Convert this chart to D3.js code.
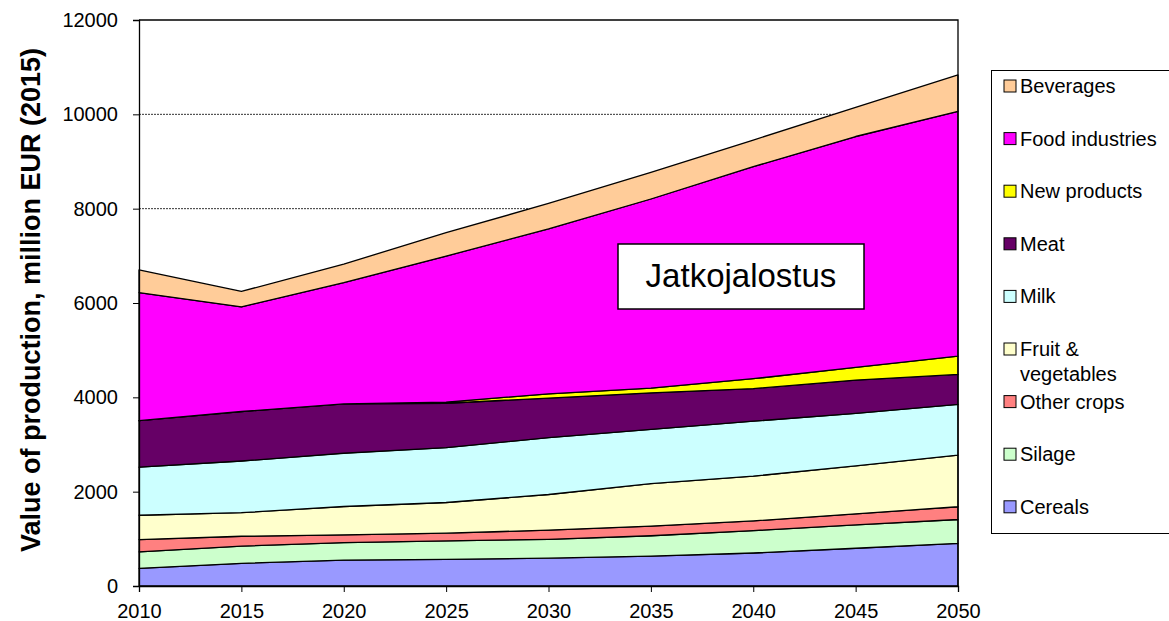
<!DOCTYPE html>
<html>
<head>
<meta charset="utf-8">
<script src="https://cdn.jsdelivr.net/npm/d3@7"></script>
<style>
  body { margin: 0; background: #fff; }
  text { font-family: "Liberation Sans", Arial, sans-serif; fill: #000; }
</style>
</head>
<body>
<div id="chart"></div>
<script>
// Values (million EUR, 2015 prices)
const years = [2010, 2015, 2020, 2025, 2030, 2035, 2040, 2045, 2050];
const cereals = [375, 480, 550, 565, 590, 635, 700, 800, 905];
const silage = [350, 365, 370, 390, 400, 430, 475, 495, 505];
const otherCrops = [260, 210, 165, 165, 195, 205, 205, 235, 270];
const fruitVeg = [515, 500, 600, 650, 755, 900, 950, 1015, 1095];
const milk = [1020, 1095, 1130, 1165, 1205, 1150, 1165, 1115, 1075];
const meat = [985, 1050, 1045, 940, 840, 775, 690, 705, 635];
const newProducts = [0, 0, 0, 25, 90, 100, 210, 270, 390];
const foodIndustries = [2715, 2220, 2570, 3095, 3495, 4010, 4495, 4895, 5190];
const beverages = [480, 325, 395, 495, 540, 565, 565, 620, 770];

const yTicks = [0, 2000, 4000, 6000, 8000, 10000, 12000];
const gridTicks = [8000, 10000];

// bottom to top
const seriesNames = ['Cereals', 'Silage', 'Other crops', 'Fruit & vegetables', 'Milk', 'Meat', 'New products', 'Food industries', 'Beverages'];
const seriesValues = [cereals, silage, otherCrops, fruitVeg, milk, meat, newProducts, foodIndustries, beverages];
const seriesColors = ['#9999ff', '#ccffcc', '#ff8080', '#ffffcc', '#ccffff', '#660066', '#ffff00', '#ff00ff', '#ffcc99'];

const width = 1169;
const height = 621;
const plot = { left: 139, right: 958, top: 20, bottom: 586 };

const rows = years.map((yr, i) => {
  const row = { year: yr };
  seriesNames.forEach((name, k) => { row[name] = seriesValues[k][i]; });
  return row;
});

const svg = d3.select('#chart')
  .append('svg')
  .attr('width', width)
  .attr('height', height);

const x = d3.scaleLinear().domain([2010, 2050]).range([plot.left, plot.right]);
const y = d3.scaleLinear().domain([0, 12000]).range([plot.bottom, plot.top]);

// dotted gridlines (under the areas)
svg.append('g')
  .selectAll('line')
  .data(gridTicks)
  .enter()
  .append('line')
  .attr('x1', plot.left)
  .attr('x2', plot.right)
  .attr('y1', (d) => y(d))
  .attr('y2', (d) => y(d))
  .attr('stroke', '#333')
  .attr('stroke-width', 1)
  .attr('stroke-dasharray', '2,1');

// stacked areas
const stack = d3.stack().keys(seriesNames);
const layers = stack(rows);

const area = d3.area()
  .x((d) => x(d.data.year))
  .y0((d) => y(d[0]))
  .y1((d) => y(d[1]));

svg.append('g')
  .selectAll('path')
  .data(layers)
  .enter()
  .append('path')
  .attr('d', area)
  .attr('fill', (d, i) => seriesColors[i])
  .attr('stroke', '#000')
  .attr('stroke-width', 1.3)
  .attr('stroke-linejoin', 'round');

// plot frame: top and right edges
svg.append('path')
  .attr('d', `M${plot.left},${plot.top}H${plot.right}V${plot.bottom}`)
  .attr('fill', 'none')
  .attr('stroke', '#000')
  .attr('stroke-width', 1.3);

// axes
const yAxis = d3.axisLeft(y).tickValues(yTicks).tickSize(6).tickPadding(15).tickFormat(d3.format('d'));
const xAxis = d3.axisBottom(x).tickValues(years).tickSize(6).tickPadding(12).tickFormat(d3.format('d'));

const yG = svg.append('g')
  .attr('transform', `translate(${plot.left},0)`)
  .call(yAxis);
const xG = svg.append('g')
  .attr('transform', `translate(0,${plot.bottom})`)
  .call(xAxis);

[yG, xG].forEach((g) => {
  g.selectAll('.domain').attr('stroke', '#000').attr('stroke-width', 1.3);
  g.selectAll('.tick line').attr('stroke', '#000');
  g.selectAll('.tick text')
    .attr('fill', '#000')
    .style('font-size', '20px')
    .style('font-family', '"Liberation Sans", Arial, sans-serif');
});

// y axis title
svg.append('text')
  .attr('transform', 'translate(40,300) rotate(-90)')
  .attr('text-anchor', 'middle')
  .style('font-size', '27px')
  .style('font-weight', 'bold')
  .text('Value of production, million EUR (2015)');

// annotation box
svg.append('rect')
  .attr('x', 618)
  .attr('y', 244)
  .attr('width', 246)
  .attr('height', 65)
  .attr('fill', '#fff')
  .attr('stroke', '#000')
  .attr('stroke-width', 1.5);

svg.append('text')
  .attr('x', 741)
  .attr('y', 287)
  .attr('text-anchor', 'middle')
  .style('font-size', '33px')
  .text('Jatkojalostus');

// legend (top entry = top layer)
const legend = svg.append('g');
legend.append('rect')
  .attr('x', 991.5)
  .attr('y', 70.5)
  .attr('width', 200)
  .attr('height', 463)
  .attr('fill', '#fff')
  .attr('stroke', '#000')
  .attr('stroke-width', 1);

const legendItems = seriesNames.map((name, i) => ({ name, color: seriesColors[i] })).reverse();

const item = legend.selectAll('.item')
  .data(legendItems)
  .enter()
  .append('g')
  .attr('class', 'item')
  .attr('transform', (d, i) => `translate(1004,${86 + i * 52.6})`);

item.append('rect')
  .attr('x', 0)
  .attr('y', -6)
  .attr('width', 12)
  .attr('height', 12)
  .attr('fill', (d) => d.color)
  .attr('stroke', '#000')
  .attr('stroke-width', 1);

item.append('text')
  .attr('x', 16)
  .attr('y', 7)
  .style('font-size', '20px')
  .each(function (d) {
    const t = d3.select(this);
    if (d.name === 'Fruit & vegetables') {
      t.append('tspan').attr('x', 16).text('Fruit &');
      t.append('tspan').attr('x', 16).attr('dy', 25).text('vegetables');
    } else {
      t.text(d.name);
    }
  });
</script>
</body>
</html>
